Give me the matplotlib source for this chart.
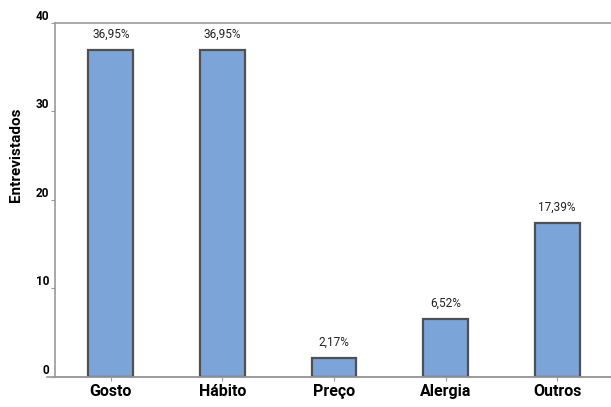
import matplotlib
matplotlib.use("Agg")
import matplotlib.pyplot as plt
from matplotlib.lines import Line2D

plt.rcParams['font.family'] = ['Roboto', 'Open Sans', 'DejaVu Sans']

categorias = ['Gosto', 'Hábito', 'Preço', 'Alergia', 'Outros']
percentuais = [36.95, 36.95, 2.17, 6.52, 17.39]
rotulos = ['36,95%', '36,95%', '2,17%', '6,52%', '17,39%']
yticks = [0, 10, 20, 30, 40]

fig = plt.figure(figsize=(6.11, 4.07), dpi=100)
ax = fig.add_axes([55 / 611, 30.3 / 407, 558 / 611, 353.7 / 407])

x = list(range(len(categorias)))
barras = ax.bar(x, percentuais, width=0.4, color='#7BA5D8',
                edgecolor='#505050', linewidth=1.6, zorder=3)

for b, txt in zip(barras, rotulos):
    ax.text(b.get_x() + b.get_width() / 2, b.get_height() + 1.0, txt,
            ha='center', va='bottom', fontsize=8.5, color='#222222')

ax.set_xlim(-0.5, 4.5)
ax.set_ylim(0, 40)
ax.set_xticks(x)
ax.set_xticklabels(categorias, fontsize=11.5, fontweight='bold')
ax.set_yticks(yticks)
ax.set_yticklabels([str(v) for v in yticks], fontsize=8.5, fontweight='bold')
ax.tick_params(axis='x', length=3, width=0.8, color='#999999', pad=2)
ax.tick_params(axis='y', length=3, width=0.8, color='#999999', pad=1)
for lbl in ax.get_yticklabels():
    lbl.set_verticalalignment('bottom')

for s in ax.spines.values():
    s.set_color('#9a9a9a')
    s.set_linewidth(1.2)

# linha de base estendida para a esquerda do eixo
fig.add_artist(Line2D([47 / 611, 1.0], [30.3 / 407, 30.3 / 407],
                      color='#9a9a9a', linewidth=1.2))

ax.set_ylabel('Entrevistados', fontsize=11, fontweight='bold')
ax.yaxis.set_label_coords(-0.057, 0.627)

fig.savefig('out.png', dpi=100)
